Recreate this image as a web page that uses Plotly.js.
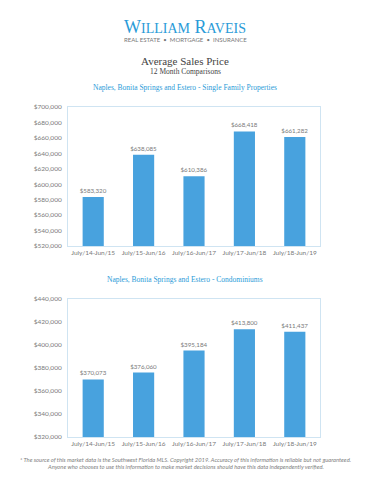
<!DOCTYPE html>
<html><head><meta charset="utf-8">
<script src="https://cdn.plot.ly/plotly-3.0.1.min.js"></script>
<style>html,body{margin:0;padding:0;background:#fff}#chart{width:370px;height:480px}</style>
</head><body><div id="chart"></div>
<script>
const periods = ["July/14-Jun/15","July/15-Jun/16","July/16-Jun/17","July/17-Jun/18","July/18-Jun/19"];
const singleFamily = [583320, 638085, 610386, 668418, 661282];
const condos = [370073, 376060, 395184, 413800, 411437];
const sfTicks = [520000,540000,560000,580000,600000,620000,640000,660000,680000,700000];
const condoTicks = [320000,340000,360000,380000,400000,420000,440000];

const barColor = "#48a2de";
const grey = "#7a7a7a";
const tickFont = {family:"Lato, sans-serif", size:6.5, color:grey};
const fmt = v => "$" + v.toLocaleString("en-US");

const labelFont = {family:"Lato, sans-serif", size:6.2, color:grey};
const traces = [
  {type:"bar", x:periods, y:singleFamily, xaxis:"x", yaxis:"y", marker:{color:barColor},
   width:0.42, text:singleFamily.map(fmt), textposition:"outside", cliponaxis:false,
   constraintext:"none", textfont:labelFont, hoverinfo:"none"},
  {type:"bar", x:periods, y:condos, xaxis:"x2", yaxis:"y2", marker:{color:barColor},
   width:0.42, text:condos.map(fmt), textposition:"outside", cliponaxis:false,
   constraintext:"none", textfont:labelFont, hoverinfo:"none"}
];

const axisLine = "#cfe4f2";
const xax = d => ({domain:[68/370,320/370], anchor:d, showgrid:false, showline:true, mirror:true,
  linecolor:axisLine, linewidth:1, tickfont:tickFont, ticks:"", fixedrange:true, zeroline:false});
const yax = (a, ticks) => ({domain:a.dom, anchor:a.anc, range:[ticks[0], ticks[ticks.length-1]],
  tickvals:ticks, ticktext:ticks.map(fmt), showgrid:false, showline:true, mirror:true,
  linecolor:axisLine, linewidth:1, tickfont:tickFont, ticks:"", zeroline:false, ticklabelstandoff:4});

const serif = "Liberation Serif, DejaVu Serif, serif";
const blue = "#2a9bd8";
const ann = (text, y, font) => ({text, x:0.5, y:1-y/480, xref:"paper", yref:"paper",
  xanchor:"center", yanchor:"middle", showarrow:false, font});
const layout = {
  width:370, height:480, margin:{l:0,r:0,t:0,b:0},
  paper_bgcolor:"#fff", plot_bgcolor:"#fff", showlegend:false,
  xaxis: xax("y"), yaxis: yax({dom:[1-246/480, 1-107/480], anc:"x"}, sfTicks),
  xaxis2: xax("y2"), yaxis2: yax({dom:[1-437/480, 1-299/480], anc:"x2"}, condoTicks),
  annotations:[
    ann("W<span style='font-size:14px'>ILLIAM</span> R<span style='font-size:14px'>AVEIS</span>", 27, {family:serif, size:18, color:blue}),
    ann("REAL ESTATE  •  MORTGAGE  •  INSURANCE", 39, {family:"Lato, sans-serif", size:6, color:"#777"}),
    ann("Average Sales Price", 61, {family:serif, size:11, color:"#444"}),
    ann("12 Month Comparisons", 71, {family:serif, size:7.5, color:"#444"}),
    ann("Naples, Bonita Springs and Estero - Single Family Properties", 87, {family:serif, size:7.5, color:blue}),
    ann("Naples, Bonita Springs and Estero - Condominiums", 279, {family:serif, size:7.5, color:blue}),
    ann("<i>* The source of this market data is the Southwest Florida MLS. Copyright 2019. Accuracy of this information is reliable but not guaranteed.</i>", 459, {family:"Lato, sans-serif", size:5.8, color:"#808080"}),
    ann("<i>Anyone who chooses to use this information to make market decisions should have this data independently verified.</i>", 466, {family:"Lato, sans-serif", size:5.8, color:"#808080"})
  ]
};
Plotly.newPlot("chart", traces, layout, {displayModeBar:false, staticPlot:true});
</script></body></html>
